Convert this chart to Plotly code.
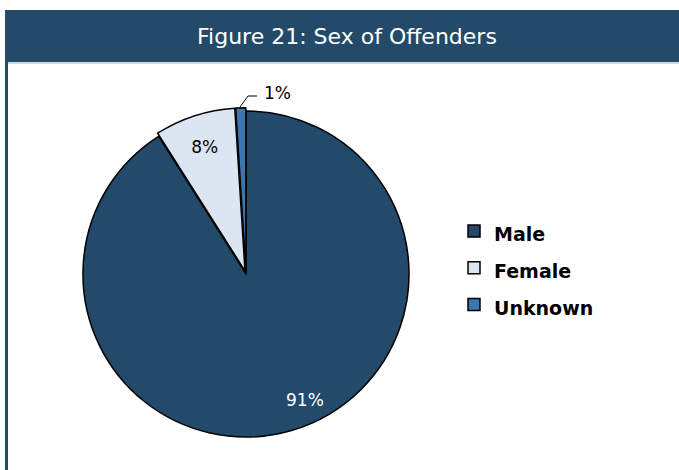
import plotly.graph_objects as go

categories = ["Male", "Female", "Unknown"]
percent_values = [91, 8, 1]
colors = ["#234a6b", "#dce6f2", "#3b76ad"]
pulls = [0, 0.02, 0.02]

title_text = "Figure 21: Sex of Offenders"

W, H = 679, 470

fig = go.Figure()
fig.add_trace(go.Pie(
    labels=[f"<span style='font-size:19px'>{c}</span>" for c in categories],
    values=percent_values,
    sort=False,
    direction="clockwise",
    rotation=0,
    pull=pulls,
    marker=dict(colors=colors, line=dict(color="#000000", width=1.5)),
    texttemplate=["", f"{percent_values[1]}%", ""],
    textposition=["none", "inside", "none"],
    insidetextorientation="horizontal",
    insidetextfont=dict(color="#000000", size=17, family="DejaVu Sans"),
    hoverinfo="label+percent",
    domain=dict(x=[0.1174, 0.6072], y=[0.0632, 0.7709]),
    showlegend=True,
))

# label for the large slice
fig.add_annotation(
    x=305 / W, y=1 - 400 / H, xref="paper", yref="paper",
    text=f"{percent_values[0]}%", showarrow=False, xanchor="center", yanchor="middle",
    font=dict(size=17, family="DejaVu Sans", color="#ffffff"),
)
# label for the small slice with leader line
fig.add_annotation(
    x=262 / W, y=1 - 93 / H, xref="paper", yref="paper",
    text=f"{percent_values[2]}%", showarrow=False, xanchor="left", yanchor="middle",
    font=dict(size=17, family="DejaVu Sans", color="#000000"),
)
fig.add_shape(type="path", xref="paper", yref="paper",
              path=f"M {240/W},{1-107/H} L {248/W},{1-96/H} L {257/W},{1-96/H}",
              line=dict(color="#000000", width=1))

# header band
fig.add_shape(type="rect", xref="paper", yref="paper",
              x0=5 / W, x1=1, y0=1 - 62 / H, y1=1 - 10 / H,
              fillcolor="#244a6a", line=dict(width=0), layer="below")
fig.add_shape(type="line", xref="paper", yref="paper",
              x0=8 / W, x1=1, y0=1 - 63 / H, y1=1 - 63 / H,
              line=dict(color="#9fb3c6", width=1))
# left border
fig.add_shape(type="rect", xref="paper", yref="paper",
              x0=5 / W, x1=8 / W, y0=0, y1=1 - 62 / H,
              fillcolor="#244a6a", line=dict(width=0))
fig.add_annotation(
    x=347 / W, y=1 - 37 / H, xref="paper", yref="paper",
    text=title_text, showarrow=False, xanchor="center", yanchor="middle",
    font=dict(size=22, family="DejaVu Sans", color="#ffffff"),
)

fig.update_layout(
    width=W, height=H,
    margin=dict(l=0, r=0, t=0, b=0),
    paper_bgcolor="#ffffff",
    plot_bgcolor="#ffffff",
    legend=dict(
        x=454 / W, y=1 - 268 / H, xanchor="left", yanchor="middle",
        font=dict(size=26, family="DejaVu Sans", color="#000000", weight="bold"),
        bgcolor="rgba(0,0,0,0)",
        itemwidth=30,
    ),
)

fig.write_html("out.html",
               config={"displayModeBar": False},
               post_script="document.body.style.margin='0';document.body.style.overflow='hidden';")
